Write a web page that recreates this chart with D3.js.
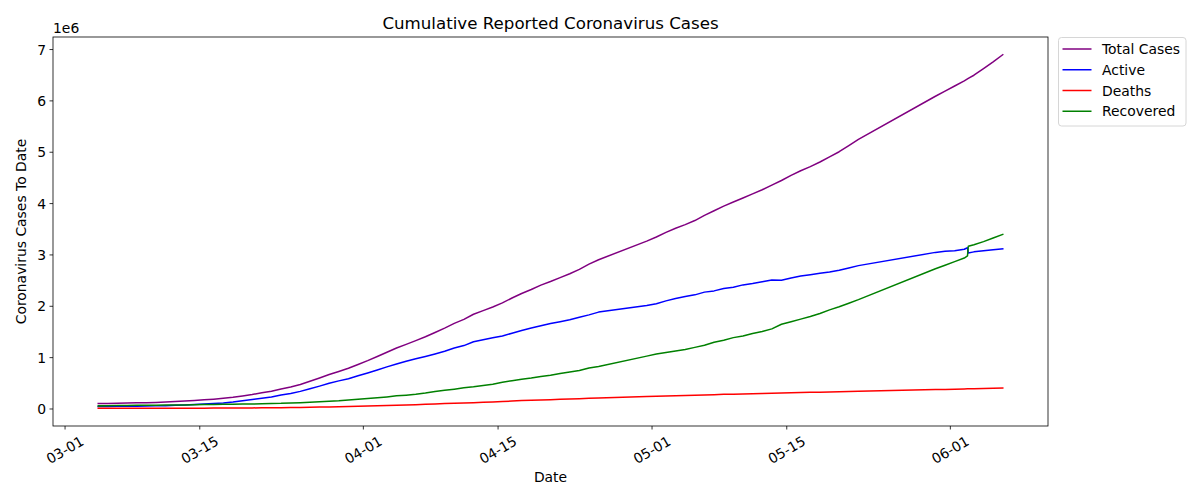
<!DOCTYPE html>
<html><head><meta charset="utf-8">
<script src="https://cdn.jsdelivr.net/npm/d3@7"></script>
<style>body{margin:0;background:#fff} text{font-family:"DejaVu Sans",sans-serif;fill:#000}</style>
</head><body><svg id="c" width="1200" height="500"></svg>
<script>
const dates = [
"2020-03-04T12:00","2020-03-05T12:00","2020-03-06T12:00","2020-03-07T12:00","2020-03-08T12:00","2020-03-09T12:00","2020-03-10T12:00","2020-03-11T12:00","2020-03-12T12:00","2020-03-13T12:00","2020-03-14T12:00","2020-03-15T12:00","2020-03-16T12:00","2020-03-17T12:00","2020-03-18T12:00","2020-03-19T12:00","2020-03-20T12:00","2020-03-21T12:00","2020-03-22T12:00","2020-03-23T12:00","2020-03-24T12:00","2020-03-25T12:00","2020-03-26T12:00","2020-03-27T12:00","2020-03-28T12:00","2020-03-29T12:00","2020-03-30T12:00","2020-03-31T12:00",
"2020-04-01T12:00","2020-04-02T12:00","2020-04-03T12:00","2020-04-04T12:00","2020-04-05T12:00","2020-04-06T12:00","2020-04-07T12:00","2020-04-08T12:00","2020-04-09T12:00","2020-04-10T12:00","2020-04-11T12:00","2020-04-12T12:00","2020-04-13T12:00","2020-04-14T12:00","2020-04-15T12:00","2020-04-16T12:00","2020-04-17T12:00","2020-04-18T12:00","2020-04-19T12:00","2020-04-20T12:00","2020-04-21T12:00","2020-04-22T12:00","2020-04-23T12:00","2020-04-24T12:00","2020-04-25T12:00",
"2020-04-30T12:00","2020-05-01T12:00","2020-05-02T12:00","2020-05-03T12:00","2020-05-04T12:00","2020-05-05T12:00","2020-05-06T12:00","2020-05-07T12:00","2020-05-08T12:00","2020-05-09T12:00","2020-05-10T12:00","2020-05-11T12:00","2020-05-12T12:00","2020-05-13T12:00","2020-05-14T12:00","2020-05-15T12:00","2020-05-16T12:00","2020-05-17T12:00","2020-05-18T12:00","2020-05-19T12:00","2020-05-20T12:00","2020-05-21T12:00","2020-05-22T12:00",
"2020-05-30T12:00","2020-05-31T12:00","2020-06-01T12:00","2020-06-02T12:00","2020-06-02T20:00","2020-06-02T22:00","2020-06-03T12:00","2020-06-04T12:00","2020-06-05T12:00","2020-06-06T12:00"
];
const totalCases = [
95000,98000,102000,106000,110000,114000,119000,126000,134000,145000,156000,168000,182000,198000,218000,245000,272000,305000,337000,379000,418000,468000,530000,594000,661000,721000,783000,857000,
932000,1013000,1095000,1177000,1249000,1321000,1396000,1480000,1565000,1657000,1735000,1835000,1905000,1976000,2056000,2152000,2240000,2317000,2402000,2472000,2549000,2624000,2708000,2810000,2897000,
3260000,3340000,3430000,3510000,3580000,3660000,3760000,3850000,3940000,4020000,4100000,4180000,4260000,4350000,4440000,4540000,4630000,4710000,4800000,4900000,5000000,5120000,5240000,
6080000,6180000,6280000,6380000,6420000,6430000,6490000,6620000,6750000,6890000
];
const active = [
41000,41000,42000,44000,45000,47000,51000,54000,61000,70000,77000,86000,97000,109000,126000,150000,174000,200000,224000,263000,291000,333000,384000,436000,491000,538000,580000,637000,
692000,750000,810000,866000,920000,969000,1014000,1063000,1116000,1179000,1225000,1299000,1337000,1376000,1411000,1466000,1518000,1566000,1613000,1656000,1691000,1730000,1778000,1823000,1877000,
2007000,2041000,2096000,2143000,2179000,2213000,2266000,2290000,2335000,2361000,2407000,2434000,2468000,2503000,2498000,2542000,2578000,2605000,2632000,2657000,2692000,2737000,2782000,
3040000,3060000,3070000,3100000,3130000,3030000,3050000,3070000,3090000,3110000
];
const deaths = [
3300,3400,3500,3600,3800,4000,4300,4600,5000,5400,5800,6400,7100,7900,8700,9900,11300,13000,14600,16500,18600,21200,23900,27200,30600,33900,37600,42100,
47200,53000,58800,64600,69400,74600,81900,88300,95500,102500,108500,114100,119500,125900,134200,143800,153800,159500,165000,170400,177600,184000,190600,197200,202800,
233400,238600,243800,247500,251500,257200,263800,269600,274900,279300,282800,286300,291900,297200,302400,307700,312000,315200,318500,323300,328100,332900,338100,
369100,372000,375500,380200,382000,382300,385900,391100,396000,400500
];
const recovered = [
51000,54000,56000,58000,61000,63000,64000,67000,68000,70000,73000,76000,78000,81000,83000,85000,87000,92000,98000,100000,108000,114000,122000,131000,139000,149000,165000,178000,
193000,210000,226000,246000,260000,277000,300000,329000,354000,376000,402000,422000,449000,474000,511000,542000,568000,592000,624000,646000,680000,710000,739000,790000,817000,
1020000,1060000,1090000,1120000,1150000,1190000,1230000,1290000,1330000,1380000,1410000,1460000,1500000,1550000,1640000,1690000,1740000,1790000,1850000,1920000,1980000,2050000,2120000,
2720000,2790000,2860000,2930000,2970000,3160000,3190000,3250000,3320000,3390000
];
const seriesNames = ["Total Cases","Active","Deaths","Recovered"];
const seriesColors = ["purple","blue","red","green"];
const xTickDates = ["2020-03-01","2020-03-15","2020-04-01","2020-04-15","2020-05-01","2020-05-15","2020-06-01"];
const yTicks = [0,1000000,2000000,3000000,4000000,5000000,6000000,7000000];
const title = "Cumulative Reported Coronavirus Cases";
const xLabel = "Date";
const yLabel = "Coronavirus Cases To Date";

const svg = d3.select("#c");
const L = 53, R = 1048, T = 37, B = 426;
const parseT = d3.utcParse("%Y-%m-%dT%H:%M");
const parseD = d3.utcParse("%Y-%m-%d");
const X = dates.map(parseT);
const seriesVals = [totalCases, active, deaths, recovered];

const xe = d3.extent(X);
const xm = (xe[1] - xe[0]) * 0.05;
const x = d3.scaleUtc().domain([new Date(+xe[0] - xm), new Date(+xe[1] + xm)]).range([L, R]);
const all = seriesVals.flat();
const ye = d3.extent(all);
const ym = (ye[1] - ye[0]) * 0.05;
const y = d3.scaleLinear().domain([ye[0] - ym, ye[1] + ym]).range([B, T]);

const FS = 13.9;
// lines
const line = d3.line().x((d,i) => x(X[i])).y(d => y(d));
const g = svg.append("g");
seriesVals.forEach((vals, k) => {
  g.append("path").datum(vals).attr("d", line)
    .attr("fill","none").attr("stroke", seriesColors[k]).attr("stroke-width",1.5)
    .attr("stroke-linejoin","round").attr("stroke-linecap","square");
});

// x axis
const xt = xTickDates.map(parseD);
const xa = svg.append("g").attr("transform",`translate(0,${B})`)
  .call(d3.axisBottom(x).tickValues(xt).tickSize(3.5).tickFormat(d3.utcFormat("%m-%d")));
xa.select(".domain").remove();
xa.selectAll(".tick line").attr("stroke","#000").attr("stroke-width",0.8);
xa.selectAll(".tick text").each(function(){
  const t = d3.select(this);
  t.attr("font-size",FS).attr("font-family","DejaVu Sans").attr("text-anchor","middle")
   .attr("y",null).attr("dy","0.346em");
  const w = this.getComputedTextLength();
  const a = 30*Math.PI/180;
  const H = w*Math.sin(a) + 1.164*FS*Math.cos(a);
  t.attr("transform",`translate(0,${7 + H/2}) rotate(-30)`);
});

// y axis
const ya = svg.append("g").attr("transform",`translate(${L},0)`)
  .call(d3.axisLeft(y).tickValues(yTicks).tickSize(3.5).tickPadding(3.5).tickFormat(d => d3.format("d")(d/1e6)));
ya.select(".domain").remove();
ya.selectAll(".tick line").attr("stroke","#000").attr("stroke-width",0.8);
ya.selectAll(".tick text").attr("font-size",FS).attr("font-family","DejaVu Sans").attr("dy","0.36em");

// frame
svg.append("rect").attr("x",L).attr("y",T).attr("width",R-L).attr("height",B-T)
  .attr("fill","none").attr("stroke","#000").attr("stroke-width",0.8);

// texts
svg.append("text").attr("x",(L+R)/2).attr("y",29).attr("text-anchor","middle").attr("font-size",16.67).text(title);
svg.append("text").attr("x",L).attr("y",33).attr("font-size",FS).text("1e6");
svg.append("text").attr("x",(L+R)/2).attr("y",482).attr("text-anchor","middle").attr("font-size",FS).text(xLabel);
svg.append("text").attr("transform",`translate(25.5,${(T+B)/2}) rotate(-90)`).attr("text-anchor","middle").attr("font-size",FS).text(yLabel);

// legend
const lg = svg.append("g");
lg.append("rect").attr("x",1058.5).attr("y",37.5).attr("width",127.5).attr("height",88.5).attr("rx",3)
  .attr("fill","#fff").attr("fill-opacity",0.8).attr("stroke","#d6d6d6").attr("stroke-width",1);
seriesNames.forEach((n,k) => {
  const yy = 49 + k*20.75;
  lg.append("line").attr("x1",1062.5).attr("x2",1091.5).attr("y1",yy).attr("y2",yy)
    .attr("stroke",seriesColors[k]).attr("stroke-width",1.5);
  lg.append("text").attr("x",1102).attr("y",yy).attr("dy","0.36em").attr("font-size",FS).text(n);
});
</script></body></html>
